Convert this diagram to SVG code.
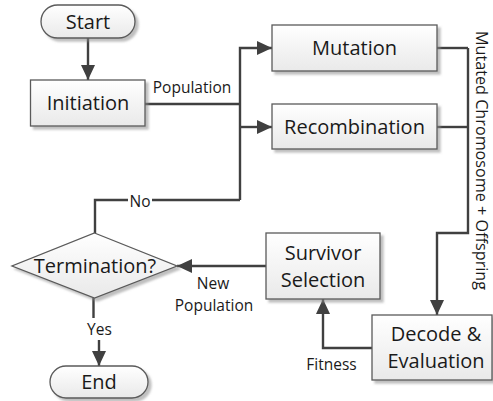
<svg xmlns="http://www.w3.org/2000/svg" width="493" height="401" viewBox="0 0 493 401">
<style>
.box{fill:url(#g);stroke:#5a5a5a;stroke-width:1.3;filter:url(#sh)}
.t{font-family:"Open Sans","Liberation Sans",sans-serif;font-size:20px;fill:#1a1a1a;text-anchor:middle}
.l{font-family:"Open Sans","Liberation Sans",sans-serif;font-size:15.5px;fill:#1a1a1a;text-anchor:middle}
.c{fill:none;stroke:#404040;stroke-width:2.4}
.a{marker-end:url(#ah)}
</style>
<defs>
<linearGradient id="g" x1="0" y1="0" x2="0" y2="1">
<stop offset="0" stop-color="#ffffff"/>
<stop offset="1" stop-color="#e9e9e9"/>
</linearGradient>
<filter id="sh" x="-10%" y="-10%" width="130%" height="140%">
<feDropShadow dx="3" dy="3" stdDeviation="1.2" flood-color="#8a8a8a" flood-opacity="0.55"/>
</filter>
<marker id="ah" markerUnits="userSpaceOnUse" markerWidth="16" markerHeight="14" refX="15" refY="7" orient="auto">
<path d="M0,0 L15,7 L0,14 z" fill="#404040"/>
</marker>
</defs>
<g id="connectors">
<path class="c a" d="M88,38 V80"/>
<path class="c" d="M145,104 H240"/>
<path class="c a" d="M240,200 V48 H272"/>
<path class="c a" d="M240,127 H272"/>
<path class="c" d="M240,200 H95 V233"/>
<path class="c" d="M437,48 H468"/>
<path class="c" d="M437,127 H468"/>
<path class="c a" d="M468,48 V233 H437 V315"/>
<path class="c a" d="M372,348 H323 V299"/>
<path class="c a" d="M266,266 H177"/>
<path class="c a" d="M93.5,298 V330 H99 V366"/>
<rect x="128" y="192" width="24" height="17" fill="#fff"/>
<text class="l" x="140" y="207">No</text>
<text class="l" x="192" y="93">Population</text>
<rect x="85" y="318" width="30" height="22" fill="#fff"/>
<text class="l" x="99.5" y="335">Yes</text>
<text class="l" x="213" y="289">New</text>
<text class="l" x="214" y="311">Population</text>
<text class="l" x="331.5" y="370">Fitness</text>
<text class="l" style="font-size:16.2px" transform="translate(476,160.5) rotate(90)">Mutated Chromosome + Offspring</text>
</g>
<g id="start">
<rect class="box" x="41" y="5" width="94" height="33" rx="16.5"/>
<text class="t" x="88" y="28.5">Start</text>
</g>
<g id="initiation">
<rect class="box" x="30.5" y="80" width="114.5" height="46"/>
<text class="t" x="88" y="110">Initiation</text>
</g>
<g id="mutation">
<rect class="box" x="272" y="25" width="165" height="46"/>
<text class="t" x="354.5" y="55">Mutation</text>
</g>
<g id="recombination">
<rect class="box" x="272" y="104" width="165" height="45"/>
<text class="t" x="354.5" y="133.5">Recombination</text>
</g>
<g id="termination">
<polygon class="box" points="94.5,233 177,266 94.5,298 12,266"/>
<text class="t" x="95" y="273">Termination?</text>
</g>
<g id="survivor">
<rect class="box" x="266" y="233" width="114" height="66"/>
<text class="t" x="323" y="260">Survivor</text>
<text class="t" x="323" y="287">Selection</text>
</g>
<g id="decode">
<rect class="box" x="372" y="315" width="120" height="65"/>
<text class="t" x="436" y="341">Decode &amp;</text>
<text class="t" x="436" y="368">Evaluation</text>
</g>
<g id="end">
<rect class="box" x="50" y="366" width="98" height="32" rx="16"/>
<text class="t" x="99" y="388.5">End</text>
</g>
</svg>
